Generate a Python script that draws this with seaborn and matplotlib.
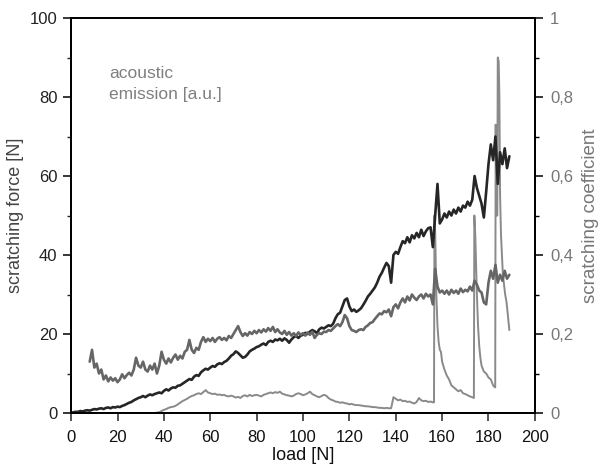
import numpy as np
import pandas as pd
import seaborn as sns
import matplotlib
import matplotlib.pyplot as plt
from matplotlib.ticker import MultipleLocator, FuncFormatter

matplotlib.use('Agg')

# scratching force [N], one reading per 1 N of load (0..189)
force = [
    0.0, 0.2, 0.3, 0.3, 0.5, 0.4, 0.6, 0.7, 0.6, 0.8,
    1.0, 0.9, 1.1, 1.2, 1.0, 1.3, 1.4, 1.2, 1.5, 1.4,
    1.6, 1.5, 1.8, 2.0, 2.3, 2.6, 2.8, 3.2, 3.5, 3.8,
    4.0, 4.3, 4.0, 4.4, 4.7, 4.5, 4.8, 5.0, 5.2, 5.0,
    5.6, 6.0, 5.7, 6.2, 6.5, 6.4, 6.9, 7.0, 7.4, 7.8,
    8.2, 8.6, 8.4, 9.2, 9.6, 9.4, 10.3, 10.8, 11.2, 11.0,
    11.5, 11.9, 11.7, 12.3, 12.6, 12.4, 12.9, 13.2, 13.8, 14.5,
    14.9, 15.6, 15.2, 14.6, 14.0, 14.2, 14.8, 15.6, 16.0, 16.3,
    16.7, 16.9, 17.3, 17.6, 17.2, 18.0, 18.3, 18.0, 18.6, 18.4,
    18.8, 18.3, 18.9, 18.5, 17.8, 18.6, 19.2, 19.5, 19.0, 19.6,
    19.8, 20.3, 20.0, 20.6, 21.0, 20.7, 20.2, 21.2, 21.6, 21.4,
    21.8, 22.2, 22.0, 22.6, 24.0, 25.0, 25.4, 27.0, 28.6, 29.0,
    27.0, 25.8, 26.2, 25.6, 26.0, 26.5, 27.4, 28.4, 29.5, 30.2,
    31.0, 31.8, 33.0, 34.5, 35.5, 36.8, 38.0, 37.2, 33.0, 40.0,
    40.8, 40.3, 42.0, 43.5, 43.0, 44.5, 43.2, 45.0, 44.2, 45.6,
    44.5, 46.4, 44.8, 46.0, 46.8, 47.0, 42.0, 50.0, 58.0, 48.0,
    49.0, 50.5, 49.5, 51.0, 50.0, 51.5, 50.5, 52.0, 51.0, 52.5,
    52.0, 53.5, 52.5, 54.0, 60.0, 57.0, 55.0, 53.0, 49.5, 56.0,
    63.0, 68.0, 64.0, 70.0, 58.0, 66.0, 63.0, 67.0, 62.0, 65.0,
]

# scratching coefficient, one reading per 1 N of load (8..189)
coef = [
    0.130, 0.160, 0.115, 0.125, 0.100, 0.110, 0.085, 0.095, 0.080, 0.090, 0.082, 0.088,
    0.078, 0.085, 0.098, 0.088, 0.096, 0.102, 0.095, 0.110, 0.140, 0.120,
    0.115, 0.130, 0.110, 0.105, 0.120, 0.110, 0.125, 0.100, 0.120, 0.155,
    0.135, 0.125, 0.138, 0.128, 0.140, 0.148, 0.135, 0.145, 0.138, 0.155,
    0.160, 0.185, 0.160, 0.152, 0.165, 0.160, 0.180, 0.192, 0.180, 0.188,
    0.182, 0.190, 0.180, 0.188, 0.192, 0.185, 0.190, 0.184, 0.195, 0.190,
    0.200, 0.210, 0.220, 0.205, 0.195, 0.202, 0.196, 0.205, 0.200, 0.208,
    0.202, 0.210, 0.204, 0.212, 0.206, 0.215, 0.208, 0.218, 0.205, 0.212,
    0.204, 0.200, 0.208, 0.198, 0.205, 0.196, 0.202, 0.195, 0.204, 0.198,
    0.202, 0.196, 0.204, 0.198, 0.206, 0.190, 0.198, 0.202, 0.200, 0.206,
    0.205, 0.210, 0.208, 0.214, 0.220, 0.225, 0.220, 0.230, 0.248, 0.240,
    0.220, 0.210, 0.208, 0.205, 0.210, 0.212, 0.210, 0.218, 0.222, 0.228,
    0.230, 0.238, 0.245, 0.252, 0.250, 0.258, 0.255, 0.262, 0.245, 0.268,
    0.275, 0.265, 0.280, 0.290, 0.280, 0.295, 0.285, 0.300, 0.292, 0.286,
    0.295, 0.300, 0.290, 0.302, 0.295, 0.300, 0.275, 0.365, 0.320, 0.305,
    0.310, 0.302, 0.310, 0.300, 0.312, 0.304, 0.310, 0.302, 0.315, 0.306,
    0.312, 0.308, 0.320, 0.310, 0.335, 0.325, 0.310, 0.305, 0.280, 0.275,
    0.330, 0.360, 0.340, 0.375, 0.330, 0.350, 0.335, 0.360, 0.340, 0.350,
]

# acoustic emission [a.u.], on the force scale
ae_load = list(range(157)) + [
    156.5, 156.7, 157.0, 157.5, 158.0, 158.5, 159.0, 159.5, 160.0, 161.0,
    162.0, 163.0, 164.0, 165.0, 166.0, 167.0, 168.0, 169.0, 170.0, 171.0,
    172.0, 173.0, 173.7, 173.9, 174.3, 175.0, 175.5, 176.0, 176.5, 177.0,
    178.0, 179.0, 180.0, 181.0, 182.0, 182.7, 182.9, 183.1, 183.3, 183.5,
    183.8, 184.0, 184.4, 184.7, 185.0, 185.4, 185.8, 186.2, 186.6, 187.2,
    187.8, 188.3, 188.8, 189.0,
]
ae = [
    0.0, 0.0, 0.0, 0.0, 0.0, 0.0, 0.0, 0.0, 0.0, 0.0,
    0.0, 0.0, 0.0, 0.0, 0.0, 0.0, 0.0, 0.0, 0.0, 0.0,
    0.0, 0.0, 0.0, 0.0, 0.0, 0.0, 0.0, 0.0, 0.0, 0.0,
    0.0, 0.0, 0.0, 0.0, 0.0, 0.0, 0.0, 0.1,
    0.2, 0.5, 0.8, 1.0, 1.3, 1.5, 1.6, 1.8, 2.2, 2.6, 3.0, 3.3,
    3.6, 4.0, 4.3, 4.5, 4.8, 5.0, 4.8, 5.3, 5.8, 5.2,
    5.0, 4.8, 4.9, 4.6, 4.7, 4.5, 4.6, 4.3, 4.2, 4.4,
    4.2, 3.9, 4.1, 3.8, 4.3, 4.5, 4.2, 4.6, 4.3, 4.5,
    4.6, 4.4, 4.2, 4.6, 4.8, 5.0, 5.2, 5.0, 5.3, 5.1,
    5.4, 4.9, 4.7, 4.5, 4.4, 4.2, 4.4, 4.8, 5.0, 4.8,
    4.5, 4.7, 5.0, 5.4, 4.8, 4.5, 4.2, 4.0, 4.3, 4.6,
    4.4, 3.8, 3.4, 3.2, 2.9, 2.8, 2.6, 2.7, 2.5, 2.4,
    2.2, 2.3, 2.1, 2.0, 2.0, 1.9, 1.8, 1.7, 1.7, 1.6,
    1.5, 1.5, 1.4, 1.3, 1.3, 1.2, 1.3, 1.2, 1.2, 4.0,
    3.6, 3.2, 3.4, 3.0, 3.1, 2.8, 2.9, 2.6, 2.4, 2.8,
    3.8, 3.2, 3.0, 3.1, 2.8, 2.9, 2.7,
    2.7, 50.0, 46.0, 30.0, 22.0, 18.0, 16.0, 15.5, 13.0, 11.0,
    9.5, 8.5, 7.0, 6.5, 6.0, 5.5, 5.8, 5.0, 4.8, 4.5,
    4.2, 4.0, 3.8, 50.0, 45.0, 30.0, 22.0, 17.0, 14.0, 12.0,
    10.5, 10.0, 9.0, 8.5, 7.0, 6.5, 6.5, 73.0, 60.0, 50.0,
    50.0, 90.0, 89.0, 80.0, 55.0, 45.0, 40.0, 35.0, 33.0, 30.0,
    28.0, 25.0, 22.0, 21.0,
]

force_df = pd.DataFrame({'load': np.arange(len(force)), 'force': force})
coef_df = pd.DataFrame({'load': np.arange(8, 8 + len(coef)), 'coef': coef})
ae_df = pd.DataFrame({'load': ae_load, 'ae': ae})

sns.set_style("ticks")
plt.rcParams['font.family'] = ['Liberation Sans', 'DejaVu Sans']

fig = plt.figure(figsize=(6.03, 4.68), dpi=100)
ax = fig.add_axes([0.118, 0.1175, 0.769, 0.844])
ax2 = ax.twinx()

sns.lineplot(data=ae_df, x='load', y='ae', ax=ax, color='#8a8a8a', lw=1.4, sort=False)
sns.lineplot(data=force_df, x='load', y='force', ax=ax, color='#262626', lw=1.9, sort=False)
sns.lineplot(data=coef_df, x='load', y='coef', ax=ax2, color='#666666', lw=1.9, sort=False)

ax.set_xlim(0, 200)
ax.set_ylim(0, 100)
ax2.set_ylim(0, 1)
ax.xaxis.set_major_locator(MultipleLocator(20))
ax.yaxis.set_major_locator(MultipleLocator(20))
ax.yaxis.set_minor_locator(MultipleLocator(10))
ax2.yaxis.set_major_locator(MultipleLocator(0.2))
ax2.yaxis.set_minor_locator(MultipleLocator(0.1))
ax2.yaxis.set_major_formatter(FuncFormatter(lambda v, p: ('%g' % round(v, 1)).replace('.', ',')))

for a in (ax, ax2):
    for s in a.spines.values():
        s.set_visible(True)
        s.set_linewidth(1.3)
        s.set_color('black')
    a.tick_params(which='major', length=6, width=1.1, labelsize=12, pad=4)
    a.tick_params(which='minor', length=3, width=1.0)

ax.tick_params(axis='x', pad=6, labelcolor='#111111')
ax.tick_params(axis='y', colors='black', labelcolor='#222222')
ax2.tick_params(axis='y', which='both', colors='black', labelcolor='#777777', pad=5)

ax.set_xlabel('load [N]', fontsize=13, color='#111111', labelpad=1.5)
ax.set_ylabel('scratching force [N]', fontsize=13, color='#444444', labelpad=4)
ax2.set_ylabel('scratching coefficient', fontsize=13.5, color='#777777', labelpad=6)

ax.text(16.5, 87.8, 'acoustic\nemission [a.u.]', fontsize=12.5, color='#808080',
        va='top', ha='left', linespacing=1.45)

fig.savefig('out.png', dpi=100)
